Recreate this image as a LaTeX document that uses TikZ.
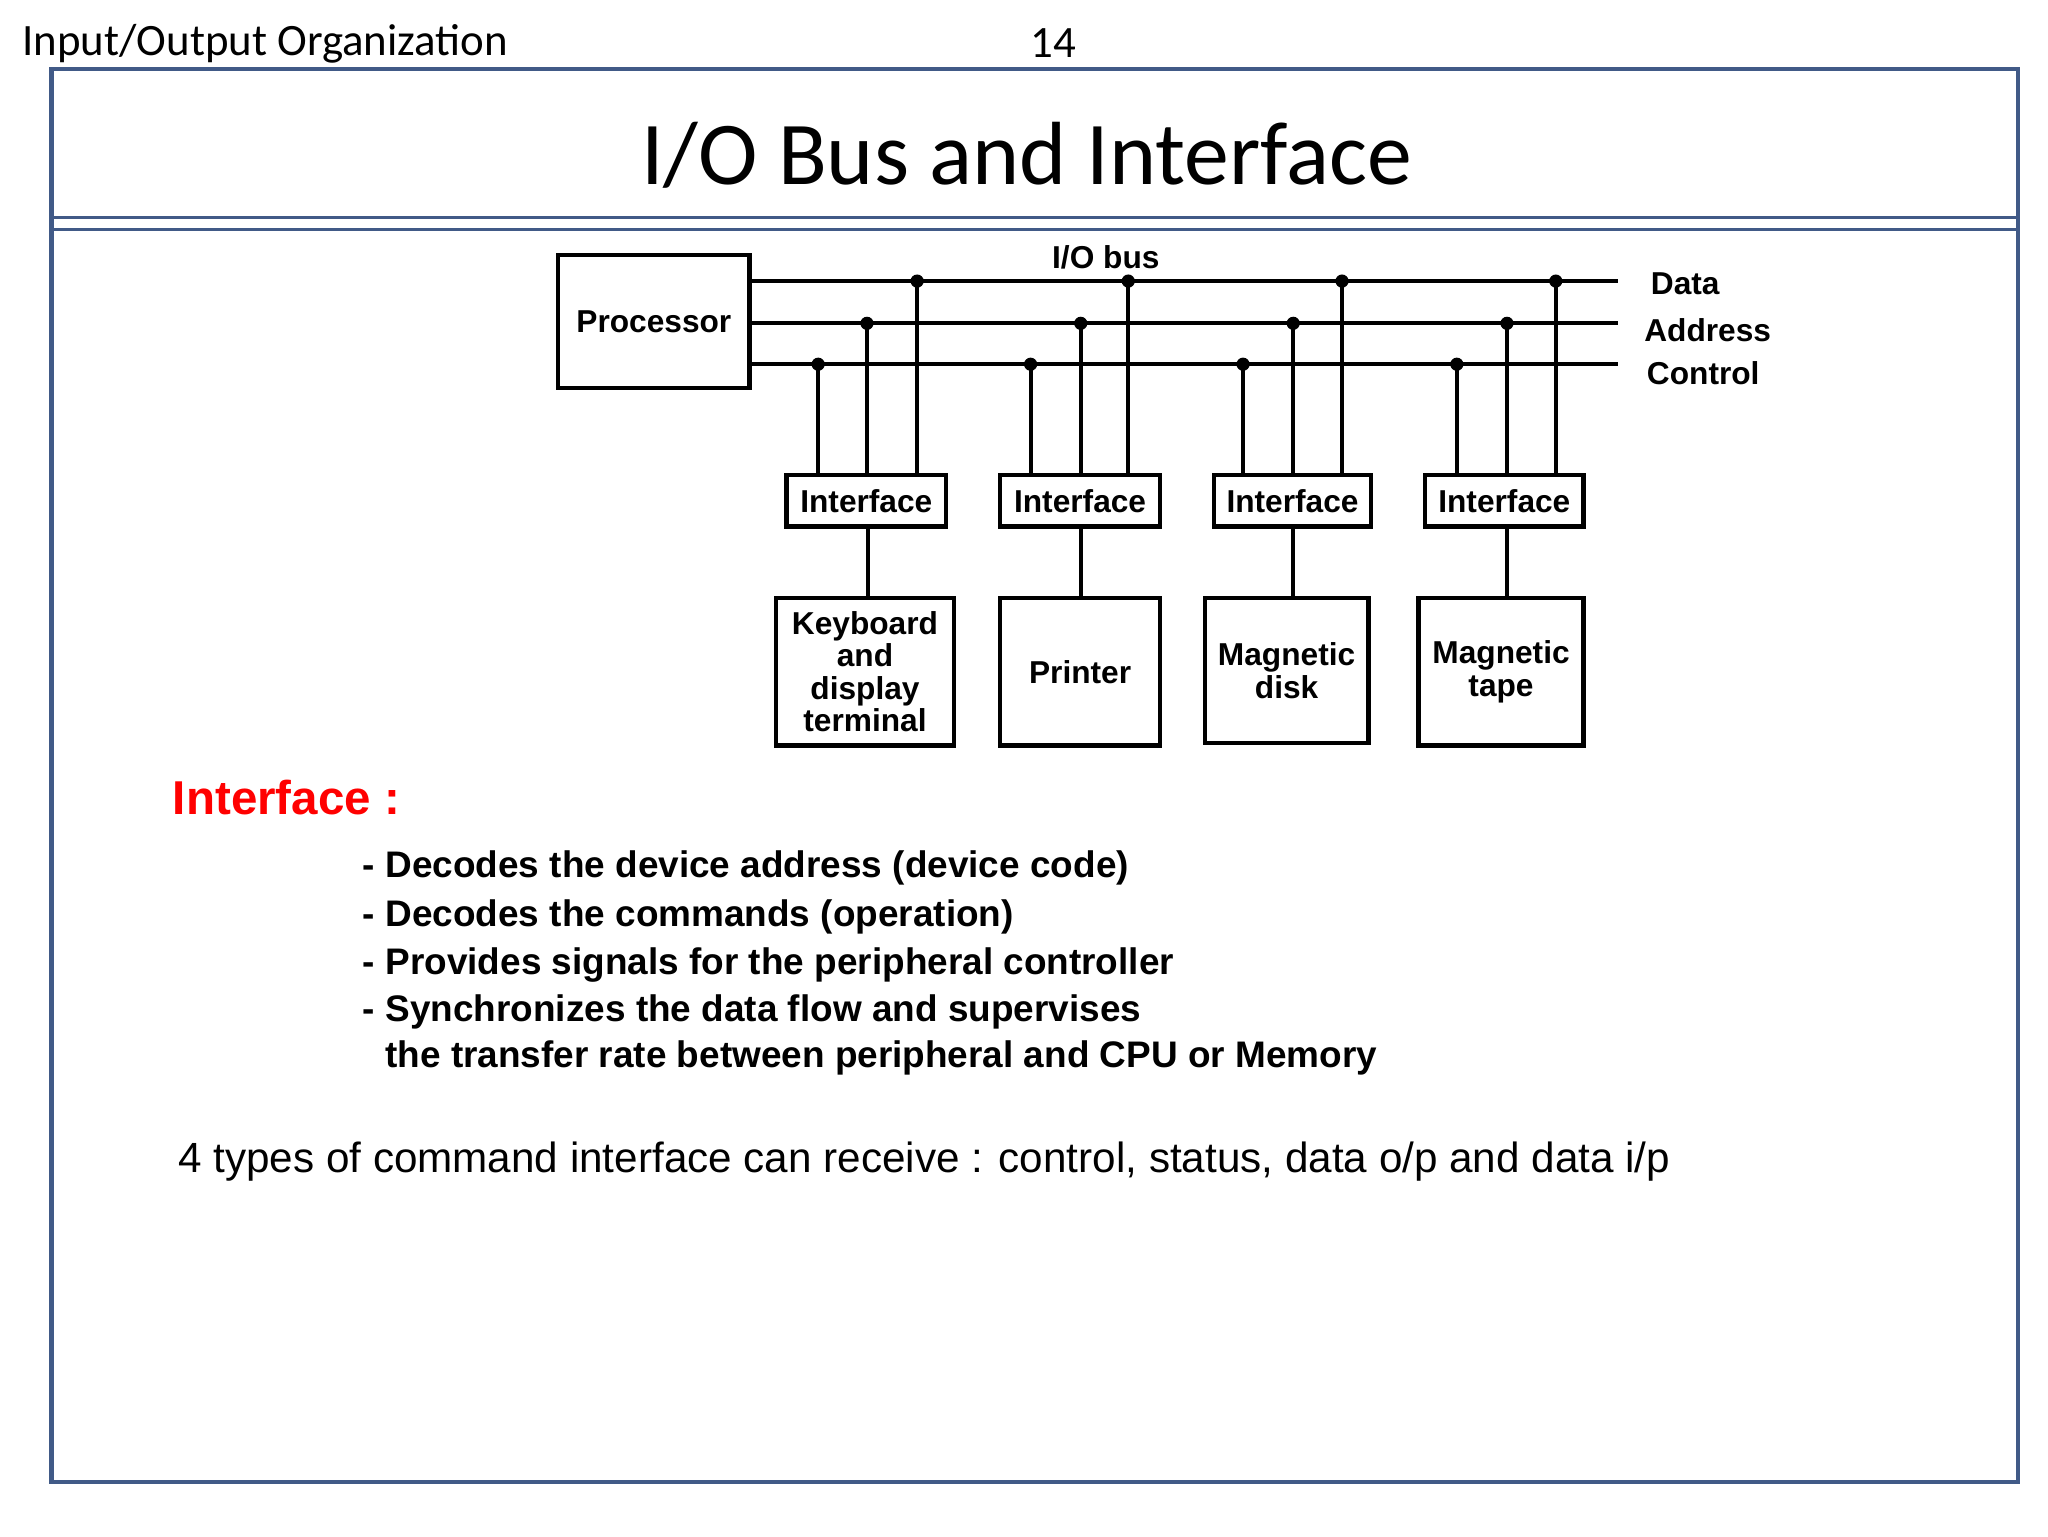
\documentclass[tikz,border=0pt]{standalone}
\usepackage{fontspec}
\setmainfont{Liberation Sans}
\newfontfamily\calfont{Carlito}
\begin{document}
\begin{tikzpicture}[x=0.5pt,y=-0.5pt,
  box/.style={draw,line width=1.6pt,inner sep=0pt,font=\bfseries\fontsize{12}{12.5}\selectfont,align=center},
  bus/.style={line width=1.6pt},
  dot/.style={circle,fill,inner sep=0pt,minimum size=5pt},
  bl/.style={font=\bfseries\fontsize{14}{16}\selectfont,anchor=west}]
\definecolor{frame}{RGB}{65,90,135}
\useasboundingbox (0,0) rectangle (1552,1164);
\draw[frame,line width=1.6pt] (39,52) rectangle (1529,1123);
\draw[frame,line width=1pt] (39,165) -- (1529,165) (39,174) -- (1529,174);
\node[font=\calfont\fontsize{17}{17}\selectfont,anchor=west] (hdr) at (10,33) {Input/Output Organization};
\node[font=\calfont\fontsize{17}{17}\selectfont] (pg) at (798,33) {14};
\node[font=\calfont\fontsize{34}{34}\selectfont] (title) at (778,118) {I/O Bus and Interface};
% processor
\node[box,minimum width=72.5pt,minimum height=50.5pt] (proc) at (495.5,243.5) {Processor};
\coordinate (d0) at (568,213); \coordinate (d1) at (1226,213);
\coordinate (a0) at (568,245); \coordinate (a1) at (1226,245);
\coordinate (c0) at (568,276); \coordinate (c1) at (1226,276);
\draw[bus] (d0)--(d1) (a0)--(a1) (c0)--(c1);
\node[font=\bfseries\fontsize{12}{12}\selectfont] (iob) at (838,195) {I/O bus};
\node[font=\bfseries\fontsize{12}{12}\selectfont,anchor=west] (ld) at (1244,215) {Data};
\node[font=\bfseries\fontsize{12}{12}\selectfont,anchor=west] (la) at (1239,250) {Address};
\node[font=\bfseries\fontsize{12}{12}\selectfont,anchor=west] (lc) at (1241,283) {Control};
% interfaces
\foreach \n/\xa/\xb/\xc/\xd/\xm in {1/596/620/657/695/717,2/758/781/819/855/879,3/920/942/980/1017/1039,4/1080/1104/1142/1179/1200}{
  \node[box,minimum width={(\xm-\xa)*0.5pt},minimum height=19.5pt] (if\n) at ({(\xa+\xm)/2},379.5) {Interface};
  \node[dot] (pc\n) at (\xb,276) {}; \node[dot] (pa\n) at (\xc,245) {}; \node[dot] (pd\n) at (\xd,213) {};
  \draw[bus] (pc\n.center) -- (\xb,360) (pa\n.center) -- (\xc,360) (pd\n.center) -- (\xd,360);
}
\node[box,minimum width=67.5pt,minimum height=56pt,font=\bfseries\fontsize{12}{12.3}\selectfont] (kb) at (655.5,509) {Keyboard\\and\\display\\terminal};
\node[box,minimum width=60.5pt,minimum height=56pt] (pr) at (818.5,509) {Printer};
\node[box,minimum width=62pt,minimum height=55pt] (md) at (975,508) {Magnetic\\disk};
\node[box,minimum width=62.5pt,minimum height=56pt] (mt) at (1137.5,509) {Magnetic\\tape};
\draw[bus] (if1.south -| 658,0) -- (kb.north -| 658,0);
\draw[bus] (if2.south -| 819,0) -- (pr.north -| 819,0);
\draw[bus] (if3.south -| 980,0) -- (md.north -| 980,0);
\draw[bus] (if4.south -| 1142,0) -- (mt.north -| 1142,0);
% text
\node[font=\bfseries\fontsize{18}{18}\selectfont,text=red,anchor=west] (ih) at (124,604) {Interface :};
\node[bl] (b1) at (268,658) {- Decodes the device address (device code)};
\node[bl] (b2) at (268,695) {- Decodes the commands (operation)};
\node[bl] (b3) at (268,731) {- Provides signals for the peripheral controller};
\node[bl] (b4) at (268,767) {- Synchronizes the data flow and supervises};
\node[bl] (b5) at (285,802) {the transfer rate between peripheral and CPU or Memory};
\node[font=\fontsize{16}{16}\selectfont,anchor=west] (last) at (128,880) {4 types of command interface can receive : control, status, data o/p and data i/p};
\end{tikzpicture}
\end{document}
